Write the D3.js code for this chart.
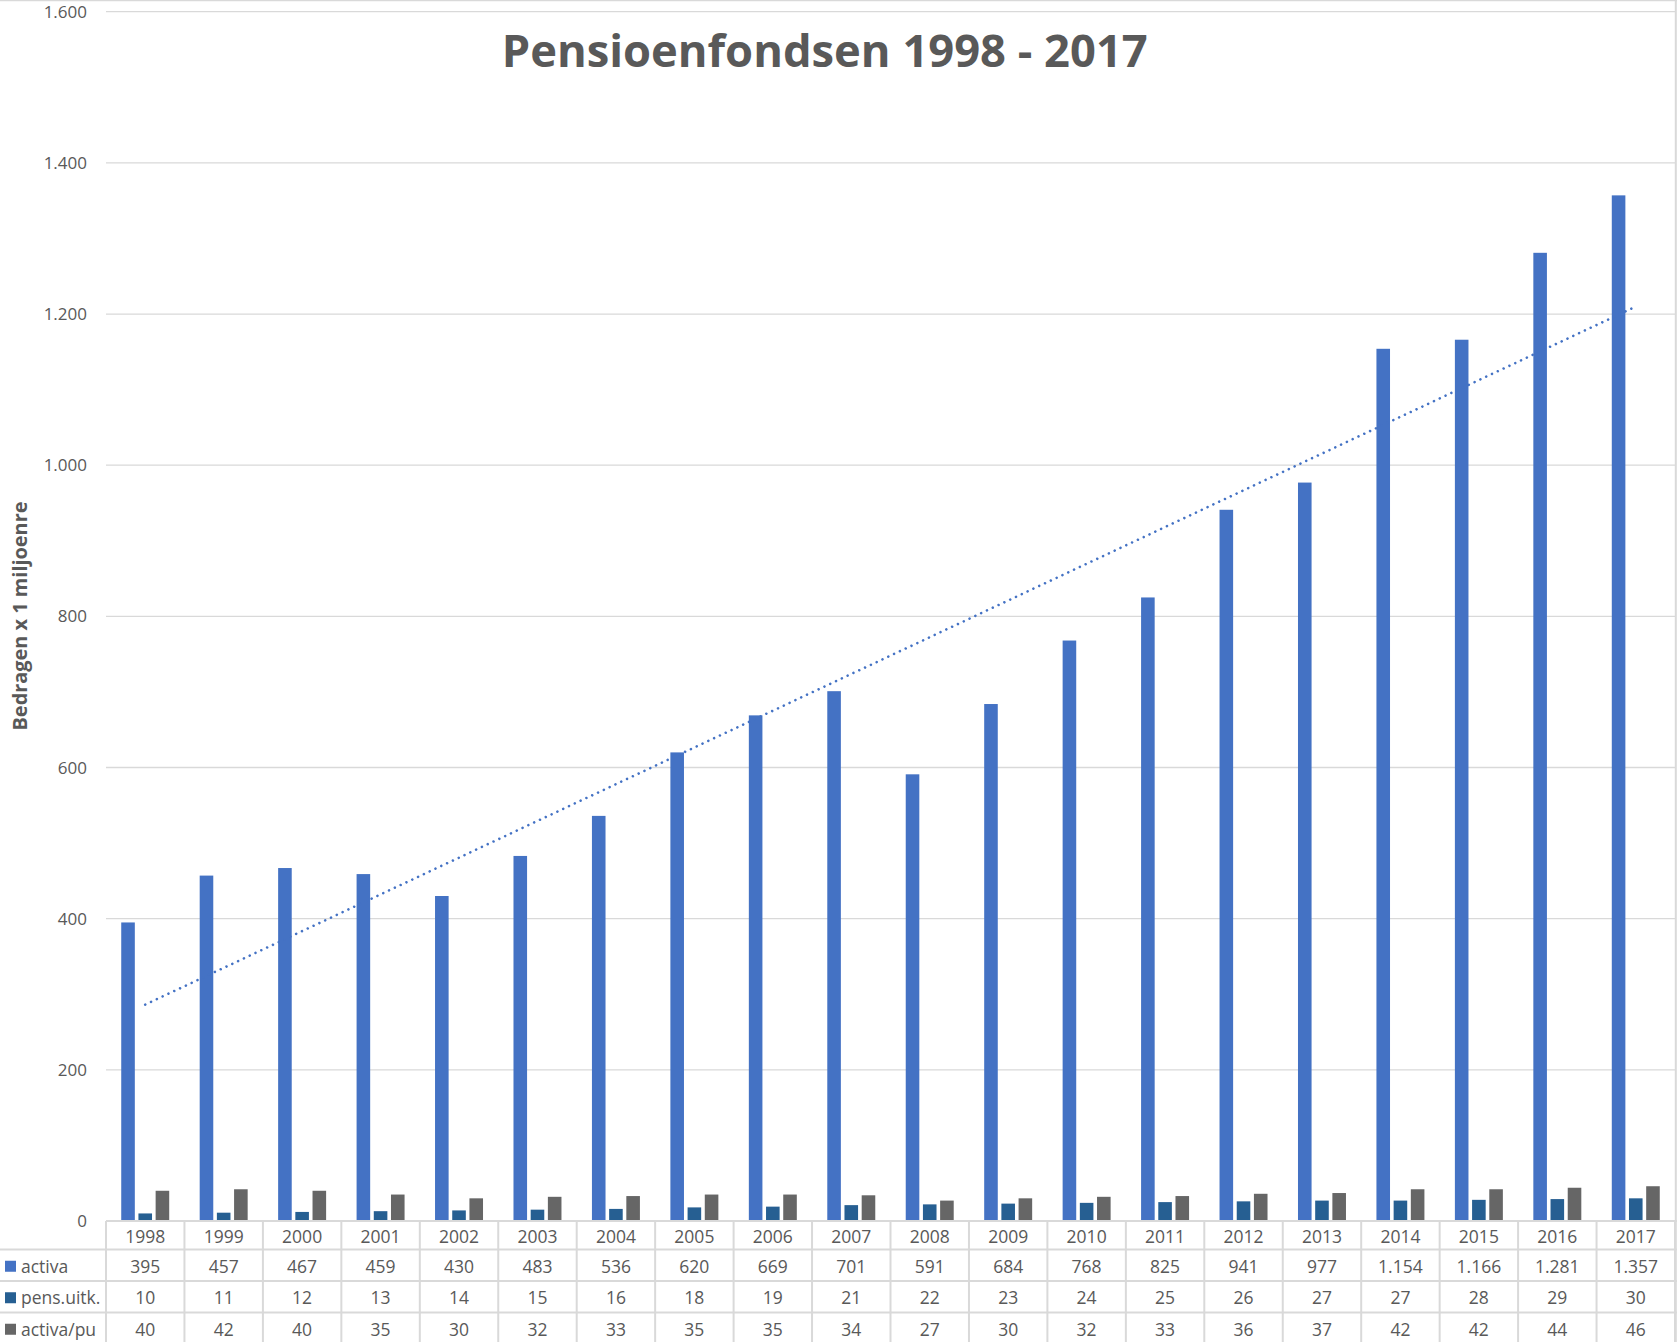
<!DOCTYPE html>
<html>
<head>
<meta charset="utf-8">
<script src="https://cdn.jsdelivr.net/npm/d3@7"></script>
<style>
  body { margin: 0; background: #ffffff; }
  text { font-family: "Open Sans", sans-serif; fill: #595959; }
</style>
</head>
<body>
<svg id="svg"></svg>
<script>

////////////////////////////////////////////////////////////////////////
// Data (read from the chart's data table)

let years = [1998, 1999, 2000, 2001, 2002, 2003, 2004, 2005, 2006, 2007,
             2008, 2009, 2010, 2011, 2012, 2013, 2014, 2015, 2016, 2017];

let activa = [395, 457, 467, 459, 430, 483, 536, 620, 669, 701,
              591, 684, 768, 825, 941, 977, 1154, 1166, 1281, 1357];

let pensUitk = [10, 11, 12, 13, 14, 15, 16, 18, 19, 21,
                22, 23, 24, 25, 26, 27, 27, 28, 29, 30];

let activaPu = [40, 42, 40, 35, 30, 32, 33, 35, 35, 34,
                27, 30, 32, 33, 36, 37, 42, 42, 44, 46];

let seriesNames = ["activa", "pens.uitk.", "activa/pu"];
let seriesColors = ["#4472c4", "#265f92", "#666666"];
let yTicks = [0, 200, 400, 600, 800, 1000, 1200, 1400, 1600];

let titleText = "Pensioenfondsen 1998 - 2017";
let yLabelText = "Bedragen x 1 miljoenre";

let seriesValues = [activa, pensUitk, activaPu];


////////////////////////////////////////////////////////////////////////
// Layout

let winWidth = 1677;
let winHeight = 1342;

let plotLeft = 106;
let plotRight = 1675;
let plotTop = 11.7;
let plotBottom = 1221;

// rows of the data table under the plot
let rowEdges = [1221, 1249.5, 1281, 1312.5, 1344];

let gridColor = "#d9d9d9";

let nl = d3.formatLocale({ decimal: ",", thousands: ".", grouping: [3], currency: ["€", ""] });
let fmt = nl.format(",d");

let svg = d3.select("#svg")
            .attr("width", winWidth)
            .attr("height", winHeight);

svg.append("rect")
   .attr("width", winWidth)
   .attr("height", winHeight)
   .attr("fill", "#ffffff");

let xScale = d3.scaleBand()
               .domain(years)
               .range([plotLeft, plotRight])
               .padding(0);

let yScale = d3.scaleLinear()
               .domain([0, 1600])
               .range([plotBottom, plotTop]);

let bw = xScale.bandwidth();

// bars inside one year: ~13.6px wide, ~17.2px apart
let innerScale = d3.scaleBand()
                   .domain(d3.range(seriesNames.length))
                   .range([0, bw])
                   .paddingInner(0.21)
                   .paddingOuter(0.886);


////////////////////////////////////////////////////////////////////////
// Chart border, gridlines and axis labels

svg.append("line")
   .attr("x1", 0).attr("x2", winWidth)
   .attr("y1", 0.5).attr("y2", 0.5)
   .attr("stroke", gridColor).attr("stroke-width", 1.5);

svg.append("line")
   .attr("x1", 1675.8).attr("x2", 1675.8)
   .attr("y1", 0).attr("y2", winHeight)
   .attr("stroke", gridColor).attr("stroke-width", 2);

svg.append("g")
   .selectAll("line")
   .data(yTicks.filter(d => d > 0))
   .enter()
   .append("line")
   .attr("x1", plotLeft)
   .attr("x2", plotRight)
   .attr("y1", d => yScale(d))
   .attr("y2", d => yScale(d))
   .attr("stroke", gridColor)
   .attr("stroke-width", 1.3);

svg.append("g")
   .selectAll("text")
   .data(yTicks)
   .enter()
   .append("text")
   .attr("x", 87)
   .attr("y", d => yScale(d))
   .attr("dy", "0.36em")
   .attr("text-anchor", "end")
   .attr("font-size", 17)
   .text(d => fmt(d));

svg.append("text")
   .attr("transform", "translate(27.3,616) rotate(-90)")
   .attr("text-anchor", "middle")
   .attr("font-size", 20)
   .attr("font-weight", "bold")
   .attr("textLength", 229)
   .attr("lengthAdjust", "spacingAndGlyphs")
   .text(yLabelText);

svg.append("text")
   .attr("x", 501.7)
   .attr("y", 66.7)
   .attr("font-size", 45)
   .attr("font-weight", "bold")
   .attr("textLength", 646)
   .attr("lengthAdjust", "spacingAndGlyphs")
   .text(titleText);


////////////////////////////////////////////////////////////////////////
// Bars

let groups = svg.append("g")
                .selectAll("g")
                .data(years)
                .enter()
                .append("g")
                .attr("transform", d => "translate(" + xScale(d) + ",0)");

groups.selectAll("rect")
      .data((d, i) => seriesValues.map((vals, s) => ({ s: s, v: vals[i] })))
      .enter()
      .append("rect")
      .attr("x", d => innerScale(d.s))
      .attr("width", innerScale.bandwidth())
      .attr("y", d => yScale(d.v))
      .attr("height", d => plotBottom - yScale(d.v))
      .attr("fill", d => seriesColors[d.s]);


////////////////////////////////////////////////////////////////////////
// Linear trendline for activa (least squares)

let xs = years.map((d, i) => i + 1);
let mx = d3.mean(xs);
let my = d3.mean(activa);
let slope = d3.sum(xs, (x, i) => (x - mx) * (activa[i] - my)) / d3.sum(xs, x => (x - mx) * (x - mx));
let intercept = my - slope * mx;

let trendPts = [years[0], years[years.length - 1]].map((yr, k) => {
  let xi = k === 0 ? 1 : years.length;
  return [xScale(yr) + bw / 2, yScale(intercept + slope * xi)];
});

svg.append("path")
   .attr("d", d3.line()(trendPts))
   .attr("fill", "none")
   .attr("stroke", "#4472c4")
   .attr("stroke-width", 2.6)
   .attr("stroke-linecap", "round")
   .attr("stroke-dasharray", "0.01 6.4");


////////////////////////////////////////////////////////////////////////
// Data table under the chart

let table = svg.append("g");

// axis line and horizontal row lines
table.append("line")
     .attr("x1", plotLeft).attr("x2", winWidth)
     .attr("y1", rowEdges[0]).attr("y2", rowEdges[0])
     .attr("stroke", gridColor).attr("stroke-width", 2);

table.selectAll("line.row")
     .data(rowEdges.slice(1, 4))
     .enter()
     .append("line")
     .attr("class", "row")
     .attr("x1", 0).attr("x2", winWidth)
     .attr("y1", d => d).attr("y2", d => d)
     .attr("stroke", gridColor).attr("stroke-width", 2);

// vertical column lines
table.selectAll("line.col")
     .data(years.map(d => xScale(d)).concat([plotRight]))
     .enter()
     .append("line")
     .attr("class", "col")
     .attr("x1", d => d).attr("x2", d => d)
     .attr("y1", rowEdges[0]).attr("y2", winHeight)
     .attr("stroke", gridColor).attr("stroke-width", 2);

let rowMid = i => (rowEdges[i] + rowEdges[i + 1]) / 2;

// year header row
table.selectAll("text.year")
     .data(years)
     .enter()
     .append("text")
     .attr("class", "year")
     .attr("x", d => xScale(d) + bw / 2)
     .attr("y", rowMid(0) + 1)
     .attr("dy", "0.36em")
     .attr("text-anchor", "middle")
     .attr("font-size", 17.5)
     .text(d => d);

// one row per series
seriesValues.forEach((vals, s) => {
  let yMid = rowMid(s + 1) + 1;

  table.append("rect")
       .attr("x", 5)
       .attr("y", yMid - 5.5)
       .attr("width", 11)
       .attr("height", 11)
       .attr("fill", seriesColors[s]);

  table.append("text")
       .attr("x", 21)
       .attr("y", yMid)
       .attr("dy", "0.36em")
       .attr("font-size", 17.5)
       .text(seriesNames[s]);

  table.selectAll("text.s" + s)
       .data(vals)
       .enter()
       .append("text")
       .attr("class", "s" + s)
       .attr("x", (d, i) => xScale(years[i]) + bw / 2)
       .attr("y", yMid)
       .attr("dy", "0.36em")
       .attr("text-anchor", "middle")
       .attr("font-size", 17.5)
       .text(d => fmt(d));
});

</script>
</body>
</html>
